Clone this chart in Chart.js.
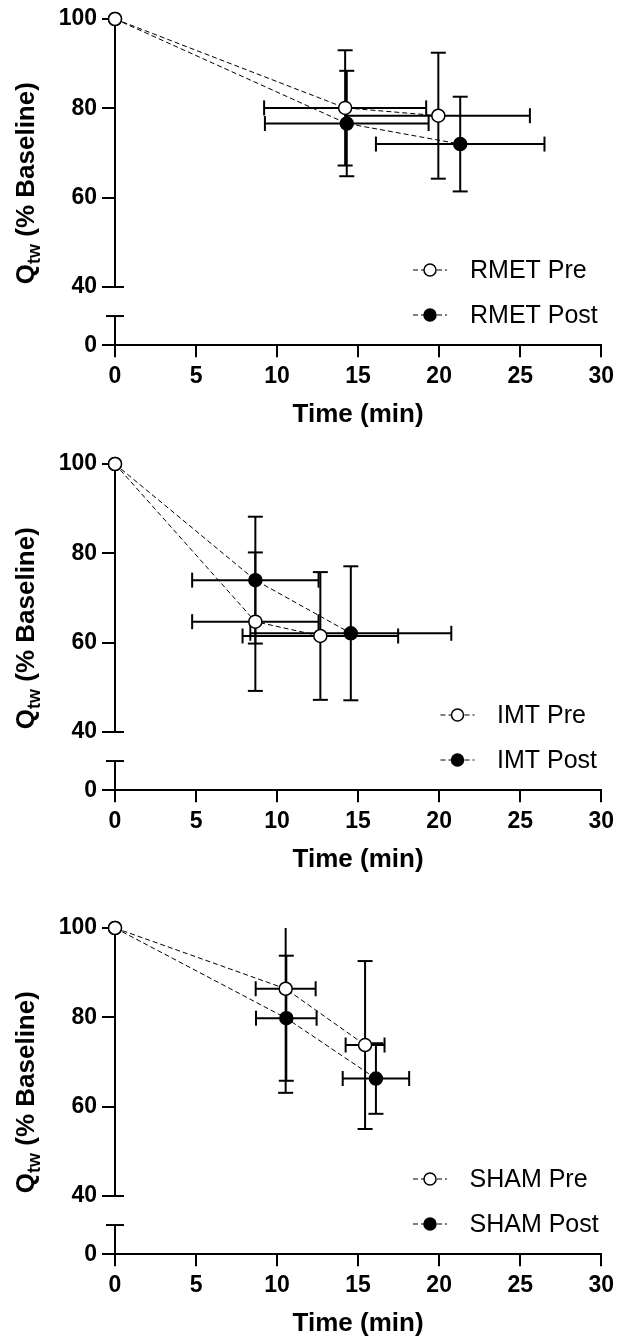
<!DOCTYPE html>
<html><head><meta charset="utf-8">
<script src="https://cdn.jsdelivr.net/npm/chart.js@4.4.1/dist/chart.umd.min.js"></script>
<style>
html,body{margin:0;padding:0;background:#fff;overflow:hidden;width:620px;height:1338px;}
.panel{position:absolute;left:0;width:620px;height:430px;}
</style></head><body>
<div class="panel" style="top:0px"><canvas id="c0"></canvas></div>
<div class="panel" style="top:445px"><canvas id="c1"></canvas></div>
<div class="panel" style="top:909px"><canvas id="c2"></canvas></div>
<script>
// ---------- data ----------
const xTicks = [0, 5, 10, 15, 20, 25, 30];
const yTickLabels = [0, 40, 60, 80, 100];
const xTitle = 'Time (min)';

const rmetLabels = ['RMET Pre', 'RMET Post'];
const rmetPreTime = [0, 14.2, 19.95];
const rmetPreTimeSD = [0, 5.0, 5.65];
const rmetPreQ = [100, 80.1, 78.35];
const rmetPreQSD = [0, 12.9, 14.1];
const rmetPostTime = [0, 14.3, 21.3];
const rmetPostTimeSD = [0, 5.05, 5.2];
const rmetPostQ = [100, 76.6, 72.0];
const rmetPostQSD = [0, 11.8, 10.6];

const imtLabels = ['IMT Pre', 'IMT Post'];
const imtPreTime = [0, 8.66, 12.67];
const imtPreTimeSD = [0, 3.9, 4.8];
const imtPreQ = [100, 64.7, 61.5];
const imtPreQSD = [0, 15.5, 14.3];
const imtPostTime = [0, 8.66, 14.55];
const imtPostTimeSD = [0, 3.9, 6.2];
const imtPostQ = [100, 74.0, 62.1];
const imtPostQSD = [0, 14.2, 15.0];

const shamLabels = ['SHAM Pre', 'SHAM Post'];
const shamPreTime = [0, 10.53, 15.43];
const shamPreTimeSD = [0, 1.85, 1.2];
const shamPreQ = [100, 86.4, 73.8];
const shamPreQSD = [0, 23.3, 18.8];
const shamPostTime = [0, 10.57, 16.1];
const shamPostTimeSD = [0, 1.87, 2.05];
const shamPostQ = [100, 79.8, 66.3];
const shamPostQSD = [0, 14.0, 7.9];

// ---------- layout / style ----------
const FONT = "'Liberation Sans', Arial, sans-serif";
const H = 430;
const X_AXIS_Y = 345.3;
const Y_ZERO_AT = 26.95;   // axis position used for the "0" tick below the break
const Y_LOW_TOP = 33.5;    // top of lower axis segment (break)
const Y_BREAK = 40;

const panels = [
  {id: 'c0', labels: rmetLabels,
   pre: [rmetPreTime, rmetPreTimeSD, rmetPreQ, rmetPreQSD],
   post: [rmetPostTime, rmetPostTimeSD, rmetPostQ, rmetPostQSD],
   legendX: 430, legendTextX: 470},
  {id: 'c1', labels: imtLabels,
   pre: [imtPreTime, imtPreTimeSD, imtPreQ, imtPreQSD],
   post: [imtPostTime, imtPostTimeSD, imtPostQ, imtPostQSD],
   legendX: 457.5, legendTextX: 497},
  {id: 'c2', labels: shamLabels,
   pre: [shamPreTime, shamPreTimeSD, shamPreQ, shamPreQSD],
   post: [shamPostTime, shamPostTimeSD, shamPostQ, shamPostQSD],
   legendX: 430, legendTextX: 469.5}
];
const legendYs = [270, 315];

function line(ctx, x1, y1, x2, y2) {
  ctx.beginPath(); ctx.moveTo(x1, y1); ctx.lineTo(x2, y2); ctx.stroke();
}

const errorBarPlugin = {
  id: 'errorBars',
  beforeDatasetDraw(chart, args) {
    const ds = chart.data.datasets[args.index];
    const xs = chart.scales.x, ys = chart.scales.y, ctx = chart.ctx;
    const cap = 7.5;
    ctx.save();
    ctx.strokeStyle = '#000'; ctx.lineWidth = 2; ctx.setLineDash([]);
    ds.data.forEach((p, i) => {
      const xsd = ds.xErr[i], ysd = ds.yErr[i];
      const px = xs.getPixelForValue(p.x), py = ys.getPixelForValue(p.y);
      if (ysd > 0) {
        const topV = Math.min(p.y + ysd, ys.max);
        const pt = ys.getPixelForValue(topV), pb = ys.getPixelForValue(p.y - ysd);
        line(ctx, px, pt, px, pb);
        if (p.y + ysd <= ys.max) line(ctx, px - cap, pt, px + cap, pt);
        line(ctx, px - cap, pb, px + cap, pb);
      }
      if (xsd > 0) {
        const pl = xs.getPixelForValue(p.x - xsd), pr = xs.getPixelForValue(p.x + xsd);
        line(ctx, pl, py, pr, py);
        line(ctx, pl, py - cap, pl, py + cap);
        line(ctx, pr, py - cap, pr, py + cap);
      }
    });
    ctx.restore();
  }
};

const yAxisPlugin = {
  id: 'brokenYAxis',
  beforeDatasetsDraw(chart) {
    const ys = chart.scales.y, ctx = chart.ctx;
    const x = chart.chartArea.left;
    const capW = 9;
    ctx.save();
    ctx.strokeStyle = '#000'; ctx.lineWidth = 2; ctx.setLineDash([]);
    const pTop = ys.getPixelForValue(100), pBreak = ys.getPixelForValue(Y_BREAK);
    const pLowTop = ys.getPixelForValue(Y_LOW_TOP), pZero = ys.getPixelForValue(Y_ZERO_AT);
    line(ctx, x, pTop, x, pBreak);
    line(ctx, x - capW, pBreak, x + capW, pBreak);
    line(ctx, x, pLowTop, x, pZero);
    line(ctx, x - capW, pLowTop, x + capW, pLowTop);
    ctx.restore();
  }
};

const decorPlugin = {
  id: 'decor',
  afterDraw(chart) {
    const ctx = chart.ctx;
    const cfg = chart.options.plugins.decor;
    // y-axis title with subscript
    ctx.save();
    ctx.fillStyle = '#000';
    ctx.translate(34, (chart.chartArea.top + chart.chartArea.bottom) / 2 + 1);
    ctx.rotate(-Math.PI / 2);
    ctx.textBaseline = 'alphabetic';
    const mainFont = 'bold 26px ' + FONT, subFont = 'bold 18px ' + FONT;
    ctx.font = mainFont; const wQ = ctx.measureText('Q').width;
    const rest = ' (% Baseline)'; const wRest = ctx.measureText(rest).width;
    ctx.font = subFont; const wSub = ctx.measureText('tw').width;
    const x0 = -(wQ + wSub + wRest) / 2;
    ctx.font = mainFont; ctx.fillText('Q', x0, 0);
    ctx.font = subFont; ctx.fillText('tw', x0 + wQ, 6);
    ctx.font = mainFont; ctx.fillText(rest, x0 + wQ + wSub, 0);
    ctx.restore();

    // legend
    ctx.save();
    chart.data.datasets.forEach((ds, i) => {
      const y = legendYs[i], mx = cfg.legendX;
      ctx.strokeStyle = '#000'; ctx.lineWidth = 1; ctx.setLineDash([5, 3]);
      line(ctx, mx - 17, y, mx + 17, y);
      ctx.setLineDash([]);
      ctx.beginPath(); ctx.arc(mx, y, 6, 0, Math.PI * 2);
      ctx.fillStyle = ds.pointBackgroundColor; ctx.fill();
      ctx.lineWidth = 1.5; ctx.strokeStyle = '#000'; ctx.stroke();
      ctx.fillStyle = '#000'; ctx.font = '25px ' + FONT; ctx.textBaseline = 'middle';
      ctx.textAlign = 'left';
      ctx.fillText(ds.label, cfg.legendTextX, y + 1);
    });
    ctx.restore();
  }
};

function makeDataset(label, arr, fill) {
  const [t, tsd, q, qsd] = arr;
  return {
    label,
    data: t.map((v, i) => ({x: v, y: q[i]})),
    xErr: tsd, yErr: qsd,
    showLine: true,
    borderColor: '#000', borderWidth: 1, borderDash: [5, 3],
    pointRadius: 6.5, pointHoverRadius: 6.5, pointBorderWidth: 1.5,
    pointBorderColor: '#000', pointBackgroundColor: fill,
    backgroundColor: fill,
    tension: 0, clip: false
  };
}

panels.forEach(p => {
  new Chart(document.getElementById(p.id), {
    type: 'scatter',
    data: {
      datasets: [
        makeDataset(p.labels[0], p.pre, '#ffffff'),
        makeDataset(p.labels[1], p.post, '#000000')
      ]
    },
    options: {
      responsive: true, maintainAspectRatio: false, animation: false,
      devicePixelRatio: 1, events: [],
      layout: {padding: {top: 19, left: 0, right: 14, bottom: 0}},
      plugins: {
        legend: {display: false}, tooltip: {enabled: false},
        decor: {legendX: p.legendX, legendTextX: p.legendTextX}
      },
      scales: {
        x: {
          type: 'linear', min: 0, max: 30,
          afterBuildTicks: s => { s.ticks = xTicks.map(v => ({value: v})); },
          afterFit: s => { s.height = H - X_AXIS_Y; },
          border: {display: true, color: '#000', width: 2},
          grid: {display: true, drawOnChartArea: false, drawTicks: true, tickLength: 12,
                 tickWidth: 2, tickColor: '#000', color: '#000', lineWidth: 2},
          ticks: {color: '#000', font: {family: FONT, size: 23, weight: 'bold'}, padding: 6,
                  maxRotation: 0, autoSkip: false, callback: v => String(v)},
          title: {display: true, text: xTitle, color: '#000',
                  font: {family: FONT, size: 26, weight: 'bold'}, padding: {top: 0, bottom: 0}}
        },
        y: {
          type: 'linear', min: Y_ZERO_AT, max: 100,
          afterBuildTicks: s => { s.ticks = yTickLabels.map(v => ({value: v === 0 ? Y_ZERO_AT : v})); },
          afterFit: s => { s.width = 115; },
          border: {display: false},
          grid: {display: true, drawOnChartArea: false, drawTicks: true, tickLength: 13,
                 tickWidth: 2, tickColor: '#000', color: '#000', lineWidth: 2},
          ticks: {color: '#000', font: {family: FONT, size: 23, weight: 'bold'}, padding: 5,
                  autoSkip: false, callback: (v, i) => String(yTickLabels[i])}
        }
      }
    },
    plugins: [errorBarPlugin, yAxisPlugin, decorPlugin]
  });
});
</script>
</body></html>
